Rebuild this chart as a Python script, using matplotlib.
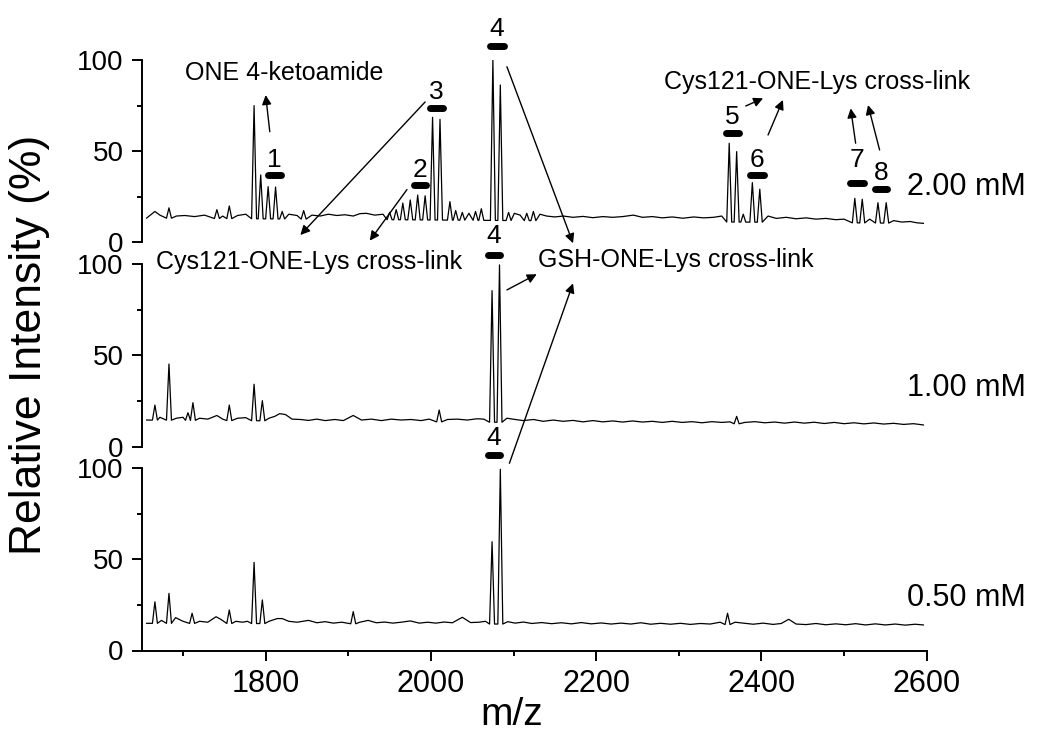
import numpy as np
import matplotlib
matplotlib.use('Agg')
import matplotlib.pyplot as plt
from matplotlib.ticker import MultipleLocator

plt.rcParams['font.family'] = ['Liberation Sans', 'DejaVu Sans']

# peak lists: m/z and relative intensity (%)
mz_200 = [1666, 1672, 1683, 1692, 1702, 1714, 1726, 1741, 1748, 1756, 1766, 1776,
          1786, 1794, 1803, 1812, 1820, 1828, 1838, 1846, 1856, 1866, 1876, 1886,
          1896, 1906, 1914, 1922, 1932, 1942, 1950, 1958, 1966, 1975, 1984, 1993,
          2002, 2011, 2023, 2030, 2038, 2046, 2054, 2061, 2075, 2084, 2094, 2101,
          2108, 2116, 2124, 2132, 2140, 2150, 2160, 2172, 2184, 2196, 2208, 2220,
          2232, 2245, 2256, 2268, 2280, 2292, 2305, 2318, 2330, 2342, 2352, 2361,
          2370, 2378, 2389, 2398, 2408, 2418, 2430, 2442, 2454, 2466, 2478, 2490,
          2500, 2513, 2522, 2531, 2541, 2551, 2560, 2570, 2580, 2588]
rel_200 = [17, 15, 19, 14.5, 14.8, 14.2, 15, 18, 14.5, 20, 14.8, 15.5,
           75, 37, 30.6, 30.4, 17, 15.5, 14.8, 17.5, 15, 14.5, 15.5, 14.8,
           15.2, 14.5, 15.8, 16, 15, 15.5, 16.5, 18, 21.6, 23.3, 26, 25.6,
           68.6, 67.5, 22.4, 17.5, 16.5, 16, 17, 18.5, 100, 86.3, 16.5, 16,
           15, 16, 17, 15.5, 14.5, 14, 14.5, 13.8, 14.3, 13.6, 14.2, 13.8,
           14.2, 15, 13.8, 14.2, 13.5, 14, 13.3, 14, 13.5, 13.8, 14.5, 54.4,
           49.8, 15.5, 32.8, 29.2, 14.5, 13.2, 13.8, 13, 13.5, 12.8, 13.2, 12.5,
           12.8, 24.2, 23.7, 12.8, 21.8, 21.8, 12, 11.2, 11.5, 10.8]
base_200 = [13.4, 10.5]

mz_100 = [1666, 1672, 1683, 1692, 1700, 1706, 1712, 1720, 1730, 1741, 1748, 1756,
          1766, 1776, 1786, 1796, 1804, 1811, 1817, 1824, 1832, 1842, 1852, 1862,
          1872, 1884, 1894, 1906, 1916, 1928, 1940, 1952, 1964, 1976, 1988, 1998,
          2010, 2020, 2032, 2044, 2056, 2064, 2074, 2083, 2092, 2102, 2112, 2124,
          2136, 2148, 2160, 2172, 2184, 2196, 2208, 2220, 2232, 2244, 2256, 2268,
          2280, 2292, 2304, 2316, 2328, 2340, 2352, 2362, 2370, 2380, 2392, 2404,
          2416, 2428, 2440, 2452, 2464, 2476, 2488, 2500, 2512, 2524, 2536, 2548,
          2560, 2572, 2584]
rel_100 = [22.7, 16, 45.2, 15.5, 16, 18.5, 24, 15.5, 15, 17, 15, 22.7,
           15.5, 15.8, 34.1, 25.1, 15.5, 16.5, 18, 17.5, 15, 14.8, 14.3, 15,
           14.2, 14.8, 14.2, 17, 14.5, 15, 14.2, 15, 14.5, 14.8, 14.2, 15,
           20, 14.8, 15, 14.5, 15.2, 15, 85.4, 99.5, 15.5, 14.8, 14.2, 14.8,
           13.8, 14.5, 13.8, 14.3, 13.5, 14.2, 13.5, 14, 13.4, 14, 13.4, 13.8,
           13.2, 13.8, 13.2, 13.6, 13, 13.6, 13.2, 13.5, 16.5, 13.2, 13.6, 13,
           13.4, 12.8, 13.4, 12.8, 13.3, 12.6, 13.2, 12.5, 13, 12.4, 12.9, 12.3,
           12.7, 12.1, 12.5]
base_100 = [14.5, 11.8]

mz_050 = [1666, 1674, 1683, 1691, 1700, 1711, 1720, 1730, 1740, 1746, 1756, 1764,
          1772, 1778, 1786, 1796, 1804, 1814, 1820, 1828, 1838, 1852, 1862, 1872,
          1882, 1892, 1906, 1914, 1924, 1934, 1944, 1954, 1964, 1975, 1986, 1996,
          2006, 2016, 2026, 2038, 2048, 2058, 2066, 2074, 2084, 2093, 2102, 2112,
          2122, 2134, 2146, 2158, 2170, 2182, 2194, 2206, 2218, 2230, 2242, 2254,
          2266, 2278, 2290, 2302, 2314, 2326, 2338, 2350, 2359, 2368, 2378, 2390,
          2402, 2414, 2424, 2433, 2442, 2454, 2466, 2478, 2490, 2502, 2514, 2526,
          2538, 2550, 2562, 2574, 2586]
rel_050 = [26.7, 16.5, 31.3, 18, 16, 20.4, 16, 15.5, 18.5, 17, 22.2, 16,
           15.5, 16, 48.3, 27.7, 16, 17.5, 17.5, 16, 15.5, 16.5, 15.2, 15.8,
           15, 15.5, 21.3, 15.5, 16.5, 15.2, 15.6, 15, 15.5, 16.2, 15, 15.5,
           15, 15.6, 15.2, 18.2, 15.3, 15.5, 16, 59.6, 99.3, 15.8, 15, 15.6,
           14.8, 15.3, 14.7, 15.2, 14.6, 15.3, 14.6, 15.1, 14.5, 15, 14.5, 15.2,
           14.4, 14.9, 14.4, 14.9, 14.3, 14.8, 14.5, 15.5, 20.4, 15.5, 15, 14.4,
           15, 14.3, 14.8, 17.1, 14.5, 14.2, 14.8, 14.1, 14.6, 14.1, 14.7, 14,
           14.6, 14, 14.5, 13.9, 14.4]
base_050 = [14.9, 14.0]

conc = ['2.00 mM', '1.00 mM', '0.50 mM']


def trace(mz, rel, base):
    # spectrum as a line: prominent peaks get feet on the baseline
    xs, ys = [1656], [base[0]]
    for m, h in zip(mz, rel):
        b = np.interp(m, [1656, 2596], base)
        if h - b > 4:
            xs += [m - 3, m, m + 3]
            ys += [b, h, b]
        else:
            xs.append(m)
            ys.append(h)
    xs.append(2596)
    ys.append(base[1])
    return xs, ys


fig = plt.figure(figsize=(10.5, 7.5), dpi=100)
L, W, H = 141.7 / 1050, 785 / 1050, 182.5 / 750
bottoms = [1 - 242.5 / 750, 1 - 446.5 / 750, 1 - 650.5 / 750]
axs = [fig.add_axes([L, b, W, H]) for b in bottoms]

data = [(mz_200, rel_200, base_200), (mz_100, rel_100, base_100), (mz_050, rel_050, base_050)]
for i, (ax, (mz, rel, base)) in enumerate(zip(axs, data)):
    x, y = trace(mz, rel, base)
    ax.plot(x, y, color='k', lw=0.9)
    ax.set_xlim(1650, 2600)
    ax.set_ylim(0, 100)
    ax.set_facecolor('none')
    for s in ['top', 'right', 'bottom']:
        ax.spines[s].set_visible(False)
    ax.spines['left'].set_linewidth(1.4)
    ax.yaxis.set_major_locator(MultipleLocator(50))
    ax.yaxis.set_minor_locator(MultipleLocator(25))
    ax.tick_params(axis='y', which='major', direction='out', length=7.2, width=1.4, labelsize=20, pad=6)
    ax.tick_params(axis='y', which='minor', direction='out', length=3.6, width=1.4)
    ax.text(2576, [30.4, 32, 28.8][i], conc[i], ha='left', va='center', fontsize=22, clip_on=False)
    if i < 2:
        ax.tick_params(axis='x', which='both', bottom=False, labelbottom=False)

ax0, ax1, ax2 = axs
ax2.spines['bottom'].set_visible(True)
ax2.spines['bottom'].set_linewidth(1.4)
ax2.xaxis.set_major_locator(MultipleLocator(200))
ax2.xaxis.set_minor_locator(MultipleLocator(100))
ax2.tick_params(axis='x', which='major', direction='out', length=7.2, width=1.4, labelsize=22, pad=6)
ax2.tick_params(axis='x', which='minor', direction='out', length=3.6, width=1.4)

fig.text(0.028, 0.54, 'Relative Intensity (%)', rotation=90, ha='center', va='center', fontsize=32)
fig.text(512 / 1050, 1 - 715 / 750, 'm/z', ha='center', va='center', fontsize=28)


def bar(ax, x0, x1, y, num, ty):
    ax.plot([x0 + 3.5, x1 - 3.5], [y, y], color='k', lw=5, solid_capstyle='round', clip_on=False)
    ax.text((x0 + x1) / 2, ty, num, ha='center', va='center', fontsize=19, clip_on=False)


bar(ax0, 1799, 1822, 37, '1', 45.2)
bar(ax0, 1975.5, 1997.7, 31.5, '2', 39.7)
bar(ax0, 1995.6, 2018, 73.5, '3', 82.6)
bar(ax0, 2067.5, 2091.7, 107.7, '4', 117)
bar(ax0, 2353.5, 2376.5, 60.2, '5', 68.9)
bar(ax0, 2382.5, 2406.7, 37, '6', 45.2)
bar(ax0, 2503.6, 2527.8, 32.4, '7', 45.2)
bar(ax0, 2533.5, 2555.6, 29.2, '8', 38)
bar(ax1, 2065.5, 2087, 104.9, '4', 115.3)
bar(ax2, 2065.5, 2087.6, 107.1, '4', 116.4)

ax0.text(1702, 92.9, 'ONE 4-ketoamide', ha='left', va='center', fontsize=18, clip_on=False)
ax0.text(2467, 88.1, 'Cys121-ONE-Lys cross-link', ha='center', va='center', fontsize=18, clip_on=False)
ax1.text(1852, 101.3, 'Cys121-ONE-Lys cross-link', ha='center', va='center', fontsize=18, clip_on=False)
ax1.text(2296, 102.2, 'GSH-ONE-Lys cross-link', ha='center', va='center', fontsize=18, clip_on=False)

arw = dict(arrowstyle='-|>', color='k', lw=1, mutation_scale=14, shrinkA=0, shrinkB=0)


def arrow(ax, tail, head, head_ax=None):
    tr = (head_ax or ax).transData
    ax.annotate('', xy=head, xycoords=tr, xytext=tail, textcoords='data',
                arrowprops=arw, annotation_clip=False)


arrow(ax0, (1805, 60.7), (1800, 80.8))
arrow(ax0, (1993, 77), (1842, 4.1))
arrow(ax0, (1971, 29), (1926, 1))
arrow(ax0, (2092, 96.3), (2172, -0.4))
arrow(ax1, (2092, 85.8), (2128, 94.4))
arrow(ax2, (2095, 102.6), (2172, 89.4), head_ax=ax1)
arrow(ax0, (2381, 74.8), (2402, 79))
arrow(ax0, (2408, 58.9), (2426, 78.1))
arrow(ax0, (2514, 54.4), (2508, 73.5))
arrow(ax0, (2543, 50.7), (2529, 75.3))

fig.savefig('out.png', dpi=100)
